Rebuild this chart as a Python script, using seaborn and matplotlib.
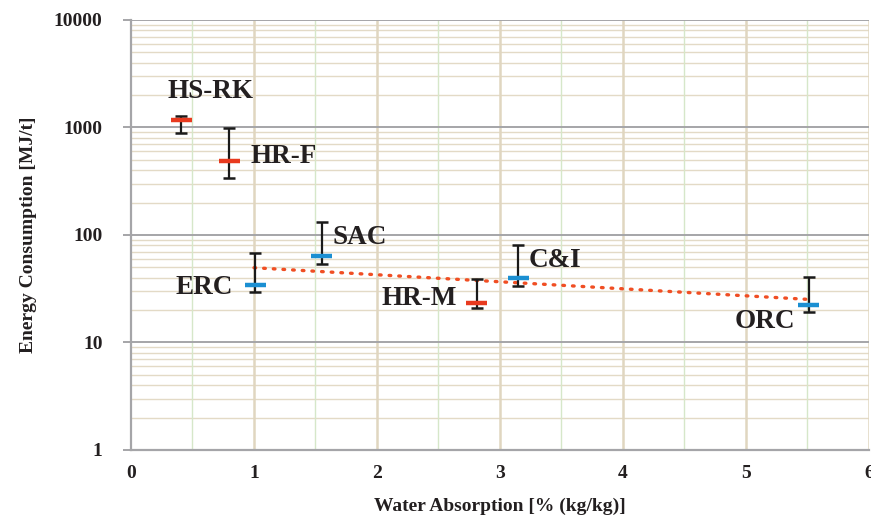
import numpy as np
import pandas as pd
import matplotlib
matplotlib.use("Agg")
import matplotlib.pyplot as plt
import seaborn as sns
from matplotlib.ticker import FixedLocator, NullFormatter

# Energy consumption vs. water absorption per recycling route
labels = ["HS-RK", "HR-F", "ERC", "SAC", "HR-M", "C&I", "ORC"]
water_abs = [0.41, 0.80, 1.01, 1.55, 2.81, 3.15, 5.51]
energy_mean = [1186, 483, 34.3, 63.8, 23.5, 39.8, 22.2]
energy_high = [1290, 980, 68, 133, 39, 80.7, 40.6]
energy_low = [898, 336, 29.3, 53.4, 20.8, 33.6, 19.4]
group = ["red", "red", "blue", "blue", "red", "blue", "blue"]

# Trend line endpoints
trend_x = [1.0, 5.5]
trend_y = [49.6, 25.2]

df = pd.DataFrame({"label": labels, "x": water_abs, "y": energy_mean,
                   "hi": energy_high, "lo": energy_low, "group": group})

sns.set_theme(style="white")
plt.rcParams["font.family"] = ["Liberation Serif", "DejaVu Serif"]
plt.rcParams["font.weight"] = "bold"

RED = "#e83a1f"
BLUE = "#1b8fd2"
TEXT = "#231f20"

fig = plt.figure(figsize=(8.71, 5.18), dpi=100)
ax = fig.add_axes([0.1504, 0.1313, 0.8473, 0.8301])

ax.set_yscale("log")
ax.set_xlim(0, 6)
ax.set_ylim(1, 10000)

# grid: minor horizontals beige, decades gray; verticals tan at integers, green at halves
for d in range(0, 4):
    for m in range(2, 10):
        ax.axhline(m * 10 ** d, color="#e3dac6", lw=1.0, zorder=0)
for d in range(1, 5):
    ax.axhline(10 ** d, color="#a5a5a8", lw=1.4, zorder=0.5)
for xv in np.arange(0.5, 6, 1.0):
    ax.axvline(xv, color="#d6e7c9", lw=1.0, zorder=0.2)
for xv in range(1, 7):
    ax.axvline(xv, color="#e0d6c0", lw=1.8, zorder=0.3)

# trend line
sns.lineplot(x=trend_x, y=trend_y, ax=ax, color="#f04e23", lw=2.4,
             linestyle=(0, (0.5, 2.4)), dash_capstyle="round", zorder=2)

# error bars
yerr = np.array([df["y"] - df["lo"], df["hi"] - df["y"]])
ax.errorbar(df["x"], df["y"], yerr=yerr, fmt="none", ecolor="#1a1a1a",
            elinewidth=1.6, capsize=4.5, capthick=1.8, zorder=3)

# horizontal bar markers
sns.scatterplot(data=df, x="x", y="y", hue="group",
                palette={"red": RED, "blue": BLUE}, marker="_", s=230,
                linewidth=3.2, legend=False, ax=ax, zorder=4)

# point labels
label_pos = {
    "HS-RK": (0.30, 2165, "left"),
    "HR-F": (0.97, 537, "left"),
    "SAC": (1.64, 93.8, "left"),
    "ERC": (0.83, 32.8, "right"),
    "HR-M": (2.65, 25.4, "right"),
    "C&I": (3.23, 57.3, "left"),
    "ORC": (5.40, 15.6, "right"),
}
for name, (tx, ty, ha) in label_pos.items():
    ax.text(tx, ty, name, ha=ha, va="center", fontsize=19.5, fontweight="bold",
            color=TEXT)

# axes styling
for s in ["top", "right"]:
    ax.spines[s].set_visible(False)
for s in ["left", "bottom"]:
    ax.spines[s].set_color("#a5a5a8")
    ax.spines[s].set_linewidth(1.6)
ax.xaxis.set_major_locator(FixedLocator(range(0, 7)))
ax.yaxis.set_major_locator(FixedLocator([1, 10, 100, 1000, 10000]))
ax.yaxis.set_minor_locator(FixedLocator([]))
ax.yaxis.set_minor_formatter(NullFormatter())
ax.set_yticklabels(["1", "10", "100", "1000", "10000"])
ax.tick_params(axis="y", which="major", left=True, length=5.5, width=1.4,
               color="#a5a5a8", labelsize=14, pad=15, labelcolor=TEXT)
ax.tick_params(axis="x", which="major", bottom=False, labelsize=14, pad=5,
               labelcolor=TEXT)
for t in ax.get_xticklabels() + ax.get_yticklabels():
    t.set_fontweight("bold")

ax.set_xlabel("Water Absorption [% (kg/kg)]", fontsize=14, fontweight="bold",
              color=TEXT, labelpad=11)
ax.set_ylabel("Energy Consumption [MJ/t]", fontsize=14, fontweight="bold",
              color=TEXT, labelpad=12)

fig.savefig("out.png", dpi=100)
